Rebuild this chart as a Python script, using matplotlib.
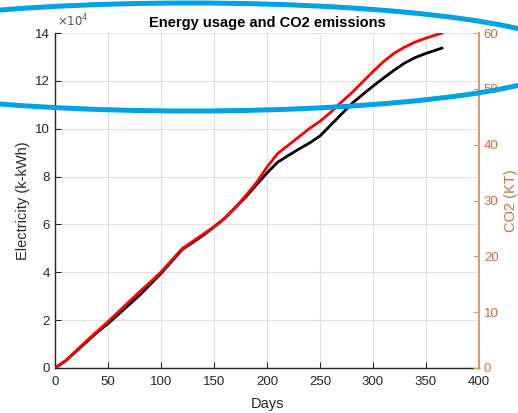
import matplotlib
matplotlib.use("Agg")
import matplotlib.pyplot as plt
from matplotlib.patches import Ellipse

plt.rcParams['font.family'] = ['Liberation Sans', 'DejaVu Sans']

# Cumulative electricity (x 1e4 k-kWh) and CO2 (KT) by day
days = [0, 10, 20, 30, 40, 50, 60, 70, 80, 90, 100, 110, 120, 130, 140, 150,
        160, 170, 180, 190, 200, 210, 220, 230, 240, 250, 260, 270, 280, 290,
        300, 310, 320, 330, 340, 350, 365]
electricity = [0, 0.30, 0.70, 1.10, 1.50, 1.85, 2.25, 2.65, 3.05, 3.50, 3.95,
               4.45, 4.95, 5.25, 5.55, 5.90, 6.25, 6.70, 7.15, 7.65, 8.15,
               8.60, 8.88, 9.15, 9.40, 9.70, 10.15, 10.60, 11.05, 11.42, 11.78,
               12.12, 12.45, 12.75, 12.98, 13.15, 13.37]
co2 = [0, 1.3, 3.1, 4.9, 6.6, 8.3, 10.1, 11.9, 13.7, 15.4, 17.2, 19.3, 21.4,
       22.7, 24.0, 25.3, 26.8, 28.7, 30.9, 33.2, 36.0, 38.4, 39.9, 41.4, 42.9,
       44.2, 45.8, 47.6, 49.3, 51.2, 53.1, 54.9, 56.4, 57.5, 58.4, 59.1, 60.0]

x_ticks = [0, 50, 100, 150, 200, 250, 300, 350, 400]
left_ticks = [0, 2, 4, 6, 8, 10, 12, 14]
right_ticks = [0, 10, 20, 30, 40, 50, 60]

orange_text = '#D46A3A'
orange_axis = '#DC9A70'
tick_gray = '#262626'

fig = plt.figure(figsize=(5.18, 4.13), dpi=100)
ax = fig.add_axes([0.1062, 0.109, 0.8185, 0.811])

ax.plot(days, [v * 1e4 for v in electricity], color='black', lw=2.0, zorder=3)
ax.set_xlim(0, 400)
ax.set_ylim(0, 14e4)
ax.set_xticks(x_ticks)
ax.set_yticks([t * 1e4 for t in left_ticks])
ax.set_yticklabels([str(t) for t in left_ticks])
ax.grid(True, color='#e0e0e0', lw=0.8)
ax.set_axisbelow(True)
ax.tick_params(direction='in', length=4, labelsize=9.5, colors=tick_gray,
               width=0.8)
ax.tick_params(axis='x', pad=6)
for s in ['top', 'right']:
    ax.spines[s].set_visible(False)
for s in ['left', 'bottom']:
    ax.spines[s].set_color(tick_gray)
    ax.spines[s].set_linewidth(1.0)
ax.set_xlabel('Days', fontsize=10.5, color=tick_gray, labelpad=6)
ax.set_ylabel('Electricity (k-kWh)', fontsize=10.5, color=tick_gray, labelpad=4)
ax.text(0.005, 1.012, r'$\times10^4$', transform=ax.transAxes, fontsize=8.5,
        color='#555555', ha='left', va='bottom')
ax.set_title('Energy usage and CO2 emissions', fontsize=10.5, fontweight='bold',
             pad=4)

ax2 = ax.twinx()
ax2.plot(days, co2, color='#FF0000', lw=2.0, zorder=4)
ax2.set_ylim(0, 60)
ax2.set_yticks(right_ticks)
ax2.tick_params(direction='in', length=4, labelsize=9.5, colors=orange_axis,
                labelcolor=orange_text, width=0.8)
for s in ['top', 'left', 'bottom']:
    ax2.spines[s].set_visible(False)
ax2.spines['right'].set_color(orange_axis)
ax2.spines['right'].set_linewidth(1.4)
ax2.set_ylabel('CO2 (KT)', fontsize=10.5, color=orange_text, labelpad=4)

# Highlight ring across the top of the chart
ring = Ellipse((190 / 518, 1 - 57 / 413), width=2 * 386 / 518,
               height=2 * 54 / 413, transform=fig.transFigure,
               fill=False, edgecolor='#00A3E4', lw=3.6, zorder=10,
               clip_on=False)
fig.patches.append(ring)

fig.savefig('out.png', dpi=100)
